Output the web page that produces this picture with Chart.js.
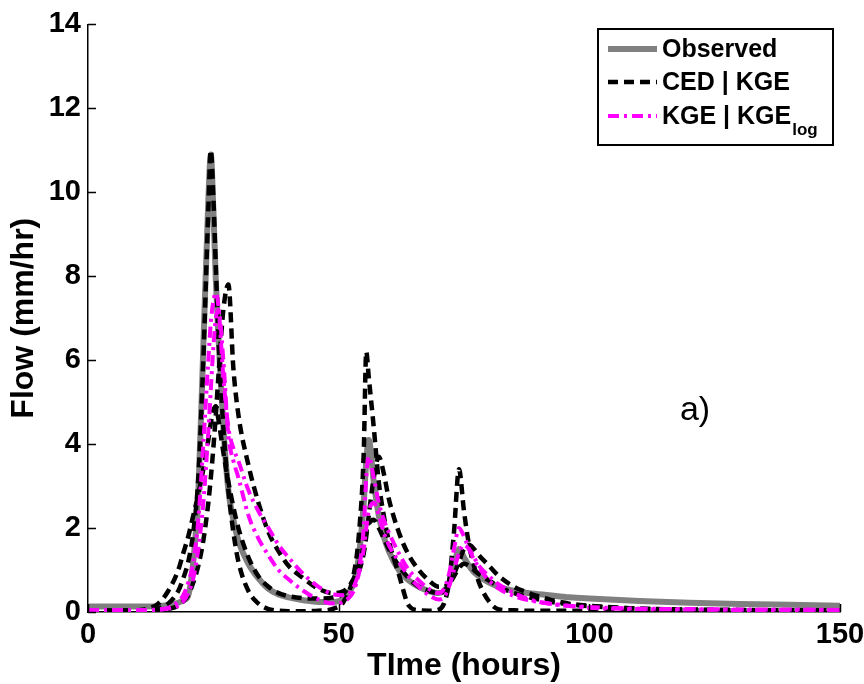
<!DOCTYPE html>
<html>
<head>
<meta charset="utf-8">
<script src="https://cdn.jsdelivr.net/npm/chart.js@4"></script>
<style>
  html, body { margin: 0; padding: 0; background: #fff; }
  #wrap { width: 864px; height: 684px; }
</style>
</head>
<body>
<div id="wrap"><canvas id="flowChart" width="864" height="684"></canvas></div>
<script>
// time axis shared by every series (hours)
const hours = [0, 5, 10, 12, 14, 16, 18, 19, 20, 21,
    22, 23, 24, 24.5, 25, 25.5, 26, 27, 28, 29,
    30, 32, 34, 36, 38, 40, 43, 46, 49, 51,
    53, 54, 55, 55.5, 56, 57, 58, 59, 60, 62,
    64, 66, 68, 70, 71, 72, 73, 74, 75, 76,
    77, 78, 80, 82, 85, 88, 92, 96, 100, 110,
    120, 130, 140, 150];

const observed = [0.13, 0.13, 0.13, 0.13, 0.14, 0.16, 0.22, 0.28, 0.4, 1.2,
    2.8, 6.3, 9.8, 10.9, 9.6, 7.9, 6.6, 4.4, 2.9, 2.2,
    1.7, 1.15, 0.8, 0.55, 0.42, 0.35, 0.28, 0.24, 0.24, 0.33,
    0.7, 1.3, 2.6, 3.6, 4.1, 3.1, 2.3, 1.8, 1.45, 1.0,
    0.75, 0.6, 0.5, 0.45, 0.5, 0.7, 1.1, 1.5, 1.3, 1.1,
    0.95, 0.85, 0.7, 0.6, 0.5, 0.45, 0.4, 0.35, 0.32, 0.26,
    0.22, 0.19, 0.17, 0.15];

// CED | KGE runs (black dashed)
const cedRunA = [0.03, 0.03, 0.03, 0.04, 0.08, 0.2, 0.5, 0.8, 1.2, 1.9,
    3.2, 6.0, 9.6, 11.0, 9.9, 8.2, 6.6, 4.4, 2.9, 1.9,
    1.2, 0.5, 0.2, 0.07, 0.03, 0.02, 0.02, 0.03, 0.08, 0.25,
    0.9, 1.8, 3.8, 6.2, 5.6, 4.4, 3.1, 2.3, 1.7, 0.9,
    0.15, 0.04, 0.03, 0.06, 0.2, 0.7, 1.9, 3.4, 2.4, 1.6,
    1.1, 0.7, 0.25, 0.06, 0.04, 0.03, 0.03, 0.03, 0.03, 0.03,
    0.03, 0.03, 0.03, 0.03];
const cedRunB = [0.03, 0.03, 0.03, 0.03, 0.04, 0.07, 0.15, 0.25, 0.4, 0.7,
    1.1, 1.7, 2.6, 3.2, 3.9, 4.7, 5.6, 7.2, 7.8, 5.8,
    4.7, 3.5, 2.6, 1.9, 1.45, 1.1, 0.8, 0.55, 0.45, 0.5,
    0.7, 0.95, 1.4, 1.8, 2.3, 3.2, 3.7, 3.3, 2.7, 1.9,
    1.35, 1.0, 0.75, 0.6, 0.6, 0.7, 0.9, 1.2, 1.5, 1.6,
    1.5, 1.35, 1.1, 0.85, 0.6, 0.45, 0.3, 0.2, 0.15, 0.08,
    0.06, 0.05, 0.04, 0.04];
const cedRunC = [0.03, 0.03, 0.04, 0.08, 0.2, 0.5, 1.0, 1.4, 1.8, 2.3,
    2.8, 3.4, 4.1, 4.5, 4.8, 4.9, 4.6, 3.8, 3.1, 2.5,
    2.0, 1.3, 0.85, 0.6, 0.45, 0.38, 0.33, 0.32, 0.35, 0.45,
    0.8, 1.1, 1.6, 1.9, 2.1, 2.2, 2.0, 1.75, 1.5, 1.1,
    0.8, 0.6, 0.5, 0.45, 0.5, 0.65, 0.85, 1.05, 1.15, 1.1,
    1.0, 0.9, 0.75, 0.6, 0.45, 0.35, 0.25, 0.18, 0.14, 0.08,
    0.05, 0.04, 0.04, 0.04];

// KGE | KGE_log runs (magenta dash-dot)
const kgeRunA = [0.05, 0.05, 0.05, 0.05, 0.06, 0.1, 0.25, 0.4, 0.7, 1.2,
    2.2, 4.0, 6.0, 6.9, 7.4, 7.6, 7.3, 5.6, 4.4, 3.9,
    3.6, 2.9, 2.4, 2.0, 1.6, 1.3, 0.9, 0.6, 0.42, 0.4,
    0.6, 1.0, 2.0, 3.2, 3.7, 3.2, 2.6, 2.2, 1.9, 1.4,
    1.0, 0.75, 0.55, 0.45, 0.55, 0.9, 1.5, 2.0, 1.8, 1.5,
    1.25, 1.05, 0.75, 0.55, 0.38, 0.28, 0.2, 0.15, 0.12, 0.08,
    0.07, 0.06, 0.06, 0.05];
const kgeRunB = [0.05, 0.05, 0.05, 0.05, 0.05, 0.08, 0.15, 0.25, 0.45, 0.8,
    1.5, 2.6, 4.3, 5.3, 6.3, 7.0, 7.2, 6.0, 4.2, 3.6,
    3.2, 2.3, 1.75, 1.35, 1.0, 0.78, 0.5, 0.3, 0.2, 0.25,
    0.5, 0.9, 1.5, 2.0, 2.4, 2.6, 2.3, 1.9, 1.6, 1.2,
    0.85, 0.6, 0.4, 0.3, 0.35, 0.6, 1.0, 1.4, 1.6, 1.5,
    1.3, 1.1, 0.85, 0.65, 0.45, 0.3, 0.2, 0.14, 0.1, 0.07,
    0.06, 0.05, 0.05, 0.05];

const yTicks = [0, 2, 4, 6, 8, 10, 12, 14];
const xTicks = [0, 50, 100, 150];

const toPoints = values => values.map((v, i) => ({ x: hours[i], y: v }));

const GRAY = '#808080';
const MAGENTA = '#ff00ff';
const FONT = "'Liberation Sans', Arial, sans-serif";

const lineBase = { pointRadius: 0, cubicInterpolationMode: 'monotone', fill: false };
const cedStyle = { borderColor: '#000', borderWidth: 4.5, borderDash: [10, 6], order: 2 };
const kgeStyle = { borderColor: MAGENTA, borderWidth: 4, borderDash: [11, 5, 3, 5], order: 1 };

const datasets = [
    Object.assign({ label: 'Observed', data: toPoints(observed), borderColor: GRAY, borderWidth: 6, order: 3 }, lineBase),
    Object.assign({ label: 'CED | KGE', data: toPoints(cedRunA) }, cedStyle, lineBase),
    Object.assign({ label: 'CED | KGE', data: toPoints(cedRunB) }, cedStyle, lineBase),
    Object.assign({ label: 'CED | KGE', data: toPoints(cedRunC) }, cedStyle, lineBase),
    Object.assign({ label: 'KGE | KGElog', data: toPoints(kgeRunA) }, kgeStyle, lineBase),
    Object.assign({ label: 'KGE | KGElog', data: toPoints(kgeRunB) }, kgeStyle, lineBase)
];

// inward tick marks, legend box and panel label
const decorations = {
    id: 'decorations',
    afterDraw(chart) {
        const ctx = chart.ctx;
        const area = chart.chartArea;
        const xs = chart.scales.x;
        const ys = chart.scales.y;
        ctx.save();
        ctx.strokeStyle = '#000';
        ctx.lineWidth = 1.5;
        ctx.setLineDash([]);
        ctx.beginPath();
        yTicks.forEach(v => {
            const py = Math.round(ys.getPixelForValue(v)) + 0.5;
            ctx.moveTo(area.left, py);
            ctx.lineTo(area.left + 8, py);
        });
        xTicks.forEach(v => {
            const px = Math.round(xs.getPixelForValue(v)) + 0.5;
            ctx.moveTo(px, area.bottom);
            ctx.lineTo(px, area.bottom - 8);
        });
        ctx.stroke();

        // legend
        const bx = 598, by = 29, bw = 235, bh = 116;
        ctx.fillStyle = '#fff';
        ctx.fillRect(bx, by, bw, bh);
        ctx.lineWidth = 2;
        ctx.strokeRect(bx, by, bw, bh);

        const rows = [
            { y: 49, ds: datasets[0], text: 'Observed' },
            { y: 82, ds: datasets[1], text: 'CED | KGE' },
            { y: 116, ds: datasets[4], text: 'KGE | KGE', sub: 'log' }
        ];
        rows.forEach(r => {
            ctx.beginPath();
            ctx.strokeStyle = r.ds.borderColor;
            ctx.lineWidth = r.ds.borderWidth;
            ctx.setLineDash(r.ds.borderDash || []);
            ctx.moveTo(608, r.y);
            ctx.lineTo(657, r.y);
            ctx.stroke();
            ctx.setLineDash([]);
            ctx.fillStyle = '#000';
            ctx.font = 'bold 25px ' + FONT;
            ctx.textBaseline = 'middle';
            ctx.textAlign = 'left';
            ctx.fillText(r.text, 662, r.y + 1);
            if (r.sub) {
                const w = ctx.measureText(r.text).width;
                ctx.font = 'bold 17px ' + FONT;
                ctx.fillText(r.sub, 662 + w + 1, r.y + 14);
            }
        });

        ctx.font = '34px ' + FONT;
        ctx.fillStyle = '#000';
        ctx.textAlign = 'center';
        ctx.textBaseline = 'middle';
        ctx.fillText('a)', 695, 411);
        ctx.restore();
    }
};

new Chart(document.getElementById('flowChart'), {
    type: 'line',
    data: { datasets: datasets },
    plugins: [decorations],
    options: {
        responsive: false,
        animation: false,
        layout: { padding: { left: 0, right: 24, top: 20, bottom: 0 } },
        scales: {
            x: {
                type: 'linear',
                min: 0,
                max: 150,
                afterFit: s => { s.height = 72; s.paddingLeft = 0; s.paddingRight = 0; },
                afterBuildTicks: s => { s.ticks = xTicks.map(v => ({ value: v })); },
                grid: { display: false, drawTicks: false },
                border: { display: true, color: '#000', width: 1.5 },
                ticks: { color: '#000', padding: 6, maxRotation: 0, font: { family: FONT, size: 29, weight: 'bold' } },
                title: {
                    display: true,
                    text: 'TIme (hours)',
                    color: '#000',
                    padding: { top: 0, bottom: 2 },
                    font: { family: FONT, size: 32, weight: 'bold', lineHeight: 1.0 }
                }
            },
            y: {
                min: 0,
                max: 14,
                afterFit: s => { s.width = 88; },
                afterBuildTicks: s => { s.ticks = yTicks.map(v => ({ value: v })); },
                grid: { display: false, drawTicks: false },
                border: { display: true, color: '#000', width: 1.5 },
                ticks: { color: '#000', padding: 7, font: { family: FONT, size: 29, weight: 'bold' } },
                title: {
                    display: true,
                    text: 'Flow (mm/hr)',
                    color: '#000',
                    padding: { top: 8, bottom: 0 },
                    font: { family: FONT, size: 32, weight: 'bold', lineHeight: 1.0 }
                }
            }
        },
        plugins: {
            legend: { display: false },
            tooltip: { enabled: false }
        }
    }
});
</script>
</body>
</html>
